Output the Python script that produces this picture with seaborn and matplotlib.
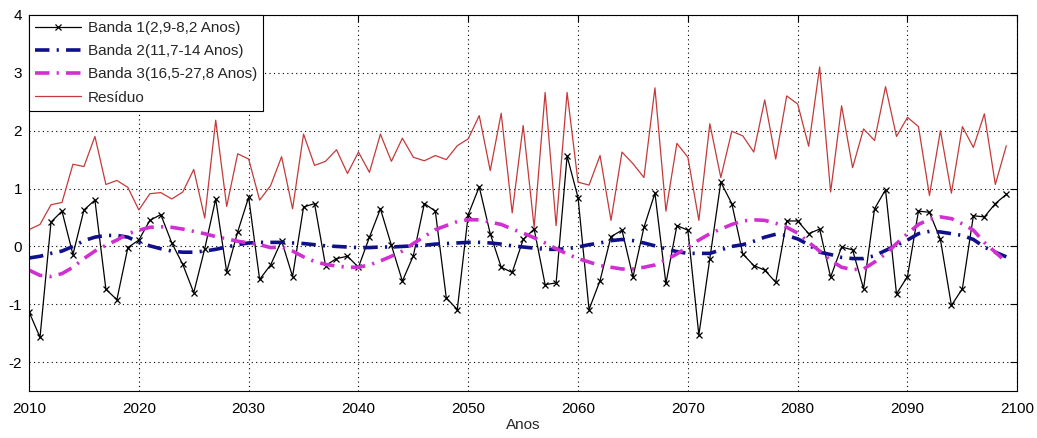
import numpy as np
import pandas as pd
import matplotlib
matplotlib.use("Agg")
import matplotlib.pyplot as plt
import seaborn as sns

years = list(range(2010, 2100))

banda1 = [-1.13, -1.57, 0.42, 0.61, -0.14, 0.63, 0.80, -0.74, -0.92, -0.02,
          0.11, 0.45, 0.55, 0.06, -0.31, -0.80, -0.04, 0.82, -0.44, 0.25,
          0.85, -0.57, -0.32, 0.10, -0.52, 0.68, 0.74, -0.33, -0.21, -0.17,
          -0.36, 0.16, 0.65, 0.02, -0.60, -0.16, 0.74, 0.61, -0.89, -1.09,
          0.55, 1.03, 0.22, -0.36, -0.45, 0.12, 0.30, -0.66, -0.63, 1.56,
          0.84, -1.09, -0.59, 0.17, 0.28, -0.53, 0.33, 0.92, -0.64, 0.36,
          0.28, -1.53, -0.21, 1.11, 0.74, -0.13, -0.33, -0.41, -0.62, 0.44,
          0.44, 0.22, 0.30, -0.53, -0.01, -0.06, -0.73, 0.65, 0.98, -0.82,
          -0.52, 0.61, 0.59, 0.12, -1.02, -0.73, 0.53, 0.51, 0.74, 0.90]

banda2 = [-0.20, -0.17, -0.12, -0.08, 0.00, 0.10, 0.16, 0.19, 0.19, 0.16,
          0.07, 0.01, -0.04, -0.08, -0.10, -0.10, -0.08, -0.05, -0.01, 0.03,
          0.06, 0.07, 0.07, 0.07, 0.06, 0.05, 0.03, 0.01, 0.00, -0.01,
          -0.02, -0.02, -0.01, -0.01, 0.00, 0.01, 0.02, 0.04, 0.05, 0.06,
          0.07, 0.07, 0.06, 0.04, 0.01, -0.01, -0.03, -0.05, -0.05, -0.04,
          -0.01, 0.03, 0.06, 0.10, 0.12, 0.10, 0.06, 0.01, -0.04, -0.09,
          -0.12, -0.12, -0.12, -0.06, 0.00, 0.03, 0.09, 0.16, 0.21, 0.19,
          0.13, 0.03, -0.10, -0.14, -0.19, -0.21, -0.21, -0.16, -0.07, 0.02,
          0.11, 0.22, 0.26, 0.25, 0.22, 0.19, 0.12, -0.01, -0.10, -0.18]

banda3 = [-0.41, -0.50, -0.52, -0.47, -0.36, -0.21, -0.08, 0.02, 0.11, 0.22,
          0.28, 0.33, 0.34, 0.33, 0.30, 0.26, 0.22, 0.17, 0.13, 0.09,
          0.06, 0.03, -0.02, -0.01, -0.08, -0.18, -0.26, -0.31, -0.34, -0.36,
          -0.36, -0.32, -0.25, -0.17, -0.08, 0.05, 0.17, 0.29, 0.36, 0.43,
          0.46, 0.46, 0.42, 0.38, 0.30, 0.23, 0.15, 0.06, -0.04, -0.13,
          -0.21, -0.27, -0.33, -0.36, -0.39, -0.39, -0.36, -0.32, -0.23, -0.13,
          -0.01, 0.11, 0.22, 0.30, 0.38, 0.44, 0.46, 0.45, 0.40, 0.33,
          0.23, 0.07, -0.08, -0.24, -0.36, -0.40, -0.39, -0.27, -0.13, 0.05,
          0.22, 0.38, 0.47, 0.51, 0.48, 0.39, 0.28, 0.07, -0.10, -0.27]

residuo = [0.29, 0.38, 0.72, 0.76, 1.42, 1.38, 1.90, 1.07, 1.14, 1.02,
           0.63, 0.91, 0.93, 0.82, 0.94, 1.33, 0.49, 2.18, 0.69, 1.60,
           1.51, 0.80, 1.05, 1.55, 0.65, 1.94, 1.40, 1.47, 1.67, 1.26,
           1.63, 1.28, 1.94, 1.47, 1.87, 1.54, 1.48, 1.57, 1.50, 1.74,
           1.86, 2.26, 1.31, 2.30, 0.58, 2.09, 0.33, 2.66, 0.36, 2.66,
           1.11, 1.06, 1.57, 0.45, 1.63, 1.43, 1.19, 2.74, 0.61, 1.78,
           1.54, 0.45, 2.12, 1.19, 1.99, 1.91, 1.63, 2.53, 1.51, 2.60,
           2.46, 1.73, 3.10, 0.94, 2.43, 1.36, 2.03, 1.83, 2.76, 1.90,
           2.23, 2.07, 0.88, 2.00, 0.92, 2.07, 1.71, 2.29, 1.07, 1.74]

labels = ["Banda 1(2,9-8,2 Anos)", "Banda 2(11,7-14 Anos)",
          "Banda 3(16,5-27,8 Anos)", "Resíduo"]
x_ticks = list(range(2010, 2101, 10))
y_ticks = list(range(-2, 5))

sns.set_style("white")
plt.rcParams['font.family'] = ['Liberation Sans', 'DejaVu Sans']

fig = plt.figure(figsize=(10.37, 4.38), dpi=100)
ax = fig.add_axes([0.028, 0.107, 0.953, 0.859])

df = pd.DataFrame({"Anos": years, "b1": banda1, "b2": banda2,
                   "b3": banda3, "res": residuo})

sns.lineplot(data=df, x="Anos", y="b1", ax=ax, color="black", lw=0.9,
             marker="x", markersize=4, markeredgewidth=0.9,
             markeredgecolor="black", label=labels[0])
sns.lineplot(data=df, x="Anos", y="b2", ax=ax, color="#10108c", lw=2.6,
             label=labels[1])
sns.lineplot(data=df, x="Anos", y="b3", ax=ax, color="#d030d0", lw=2.6,
             label=labels[2])
sns.lineplot(data=df, x="Anos", y="res", ax=ax, color="#c43a3a", lw=0.9,
             label=labels[3])

for line in ax.get_lines()[1:3]:
    line.set_dashes([4, 2, 0.6, 2])

ax.set_xlim(2010, 2100)
ax.set_ylim(-2.5, 4)
ax.set_xticks(x_ticks)
ax.set_yticks(y_ticks)
ax.set_xticklabels([str(t) for t in x_ticks])
ax.set_yticklabels([str(t) for t in y_ticks])
ax.tick_params(direction="in", length=5, width=0.8, top=True, right=True,
               labelsize=11, colors="black")
ax.tick_params(axis="x", pad=8)
ax.tick_params(axis="y", pad=5)
ax.grid(True, linestyle=(0, (1, 3)), color="black", linewidth=0.8)
ax.set_xlabel("Anos", fontsize=11, labelpad=1)
ax.set_ylabel("")
for sp in ax.spines.values():
    sp.set_color("black")
    sp.set_linewidth(0.8)

leg = ax.legend(loc="upper left", fontsize=11, frameon=True, fancybox=False,
                edgecolor="black", framealpha=1, borderaxespad=0,
                handlelength=3.0, labelspacing=0.6, borderpad=0.4,
                handletextpad=0.45)
leg.get_frame().set_linewidth(0.8)

fig.savefig("out.png", dpi=100)
